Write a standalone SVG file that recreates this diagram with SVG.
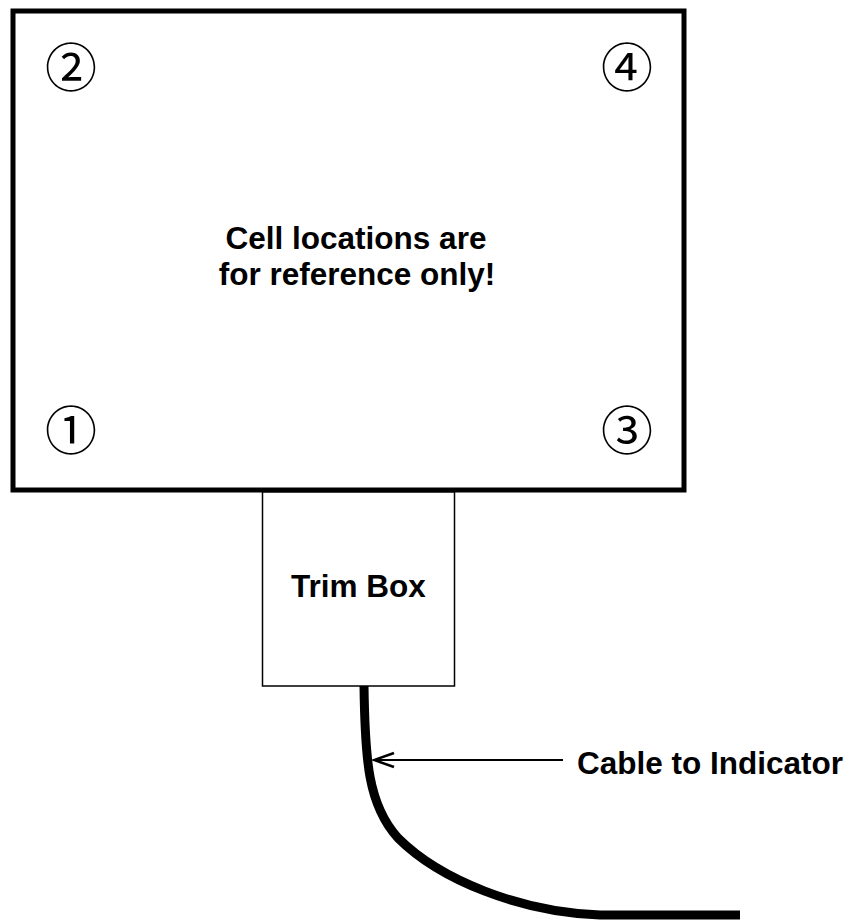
<svg xmlns="http://www.w3.org/2000/svg" width="847" height="921" viewBox="0 0 847 921">
<style>
.lbl{font-family:"Liberation Sans",Arial,sans-serif;font-weight:bold;font-size:31.5px;fill:#000}
.num{font-family:"Noto Sans CJK JP","Noto Sans CJK SC",sans-serif;font-size:52px;fill:#000;text-anchor:middle}
</style>
<defs>
<marker id="open" markerUnits="userSpaceOnUse" markerWidth="30" markerHeight="20" refX="28" refY="10" orient="auto" viewBox="0 0 30 20">
<path d="M8,3 L28,10 L8,17" fill="none" stroke="#000" stroke-width="2.5"/>
</marker>
</defs>
<rect width="847" height="921" fill="#fff"/>
<g id="platform">
<rect x="13" y="11" width="671" height="479" fill="none" stroke="#000" stroke-width="5"/>
<text class="lbl" x="356" y="249" text-anchor="middle">Cell locations are</text>
<text class="lbl" x="357" y="285" text-anchor="middle">for reference only!</text>
</g>
<g id="cell2"><text class="num" x="71" y="87">②</text></g>
<g id="cell4"><text class="num" x="627" y="87">④</text></g>
<g id="cell1"><text class="num" x="71" y="450">①</text></g>
<g id="cell3"><text class="num" x="627" y="450">③</text></g>
<g id="trimbox">
<rect x="262.5" y="492" width="192" height="194" fill="#fff" stroke="#000" stroke-width="1.5"/>
<text class="lbl" x="358.5" y="597" text-anchor="middle">Trim Box</text>
</g>
<g id="connectors">
<path d="M364,686 C365,760 368,805 398,838 C440,880 520,912 600,915 L740,915" fill="none" stroke="#000" stroke-width="9"/>
<line x1="563" y1="760" x2="374" y2="760" stroke="#000" stroke-width="2" marker-end="url(#open)"/>
</g>
<g id="cable-label"><text class="lbl" x="577" y="774">Cable to Indicator</text></g>
</svg>
